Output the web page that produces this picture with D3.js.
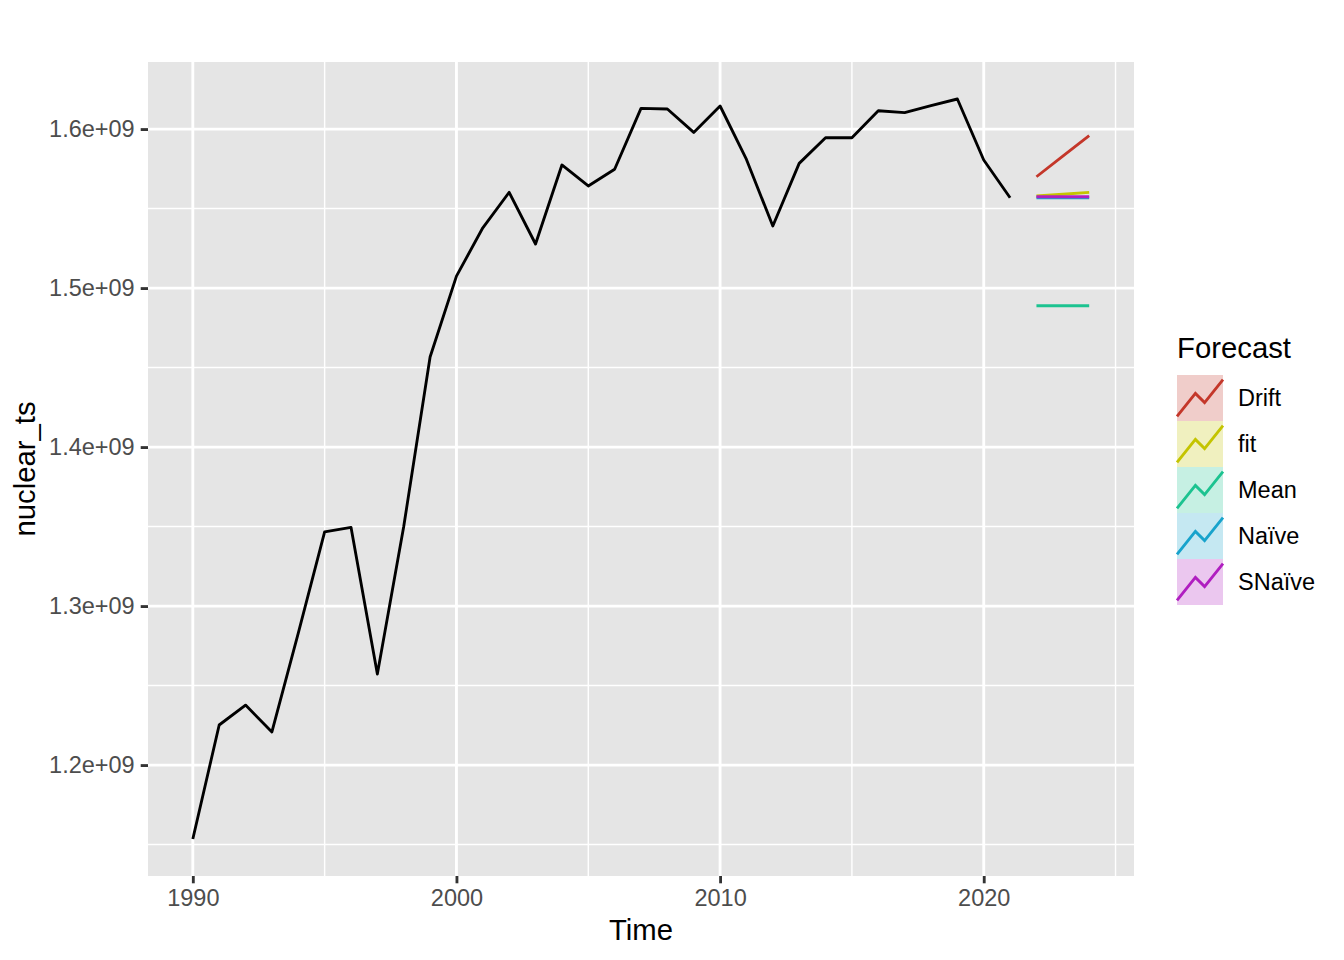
<!DOCTYPE html>
<html>
  <head>
    <meta charset="utf-8">
    <script src="https://d3js.org/d3.v7.min.js"></script>
    <style>
      body { margin: 0; background: white; }
      text { font-family: "Liberation Sans", Arial, sans-serif; }
    </style>
  </head>
  <body>
    <div id="chart"></div>
    <script>
      // observed series (annual)
      const years = [1990, 1991, 1992, 1993, 1994, 1995, 1996, 1997, 1998, 1999,
                     2000, 2001, 2002, 2003, 2004, 2005, 2006, 2007, 2008, 2009,
                     2010, 2011, 2012, 2013, 2014, 2015, 2016, 2017, 2018, 2019,
                     2020, 2021]
      const nuclear = [1.1535e9, 1.2252e9, 1.2377e9, 1.2208e9, 1.283e9, 1.3467e9, 1.3495e9, 1.2572e9, 1.350e9, 1.4566e9,
                       1.5075e9, 1.5379e9, 1.5602e9, 1.5277e9, 1.5774e9, 1.5642e9, 1.5747e9, 1.6130e9, 1.6126e9, 1.5979e9,
                       1.6145e9, 1.5809e9, 1.5390e9, 1.5784e9, 1.5945e9, 1.5945e9, 1.6115e9, 1.6103e9, 1.6147e9, 1.6189e9,
                       1.5805e9, 1.5568e9]

      // forecasts
      const fcYears = [2022, 2023, 2024]
      const fcNames = ['Drift', 'fit', 'Mean', 'Naïve', 'SNaïve']
      const drift  = [1.5700e9, 1.5830e9, 1.5958e9]
      const fit    = [1.5579e9, 1.5590e9, 1.5602e9]
      const mean   = [1.4889e9, 1.4889e9, 1.4889e9]
      const naive  = [1.5568e9, 1.5568e9, 1.5568e9]
      const snaive = [1.5574e9, 1.5574e9, 1.5574e9]
      const fcValues = [drift, fit, mean, naive, snaive]

      // ticks
      const xMajor = [1990, 2000, 2010, 2020]
      const xMinor = [1995, 2005, 2015, 2025]
      const yMajor = [1.2e9, 1.3e9, 1.4e9, 1.5e9, 1.6e9]
      const yMinor = [1.15e9, 1.25e9, 1.35e9, 1.45e9, 1.55e9]

      const W = 1344, H = 960
      const panel = {left: 148, right: 1134, top: 62, bottom: 876}
      const lw = 2.85

      const svg = d3.select('#chart').append('svg')
        .attr('width', W).attr('height', H)

      const allX = years.concat(fcYears)
      const allY = nuclear.concat(...fcValues)
      const xExt = d3.extent(allX), yExt = d3.extent(allY)
      const xPad = (xExt[1] - xExt[0]) * 0.05, yPad = (yExt[1] - yExt[0]) * 0.05

      const x = d3.scaleLinear().domain([xExt[0] - xPad, xExt[1] + xPad]).range([panel.left, panel.right])
      const y = d3.scaleLinear().domain([yExt[0] - yPad, yExt[1] + yPad]).range([panel.bottom, panel.top])

      const color = d3.scaleOrdinal().domain(fcNames)
        .range(['#c4372a', '#c4c400', '#1cc390', '#18a3cc', '#b01ec0'])

      // panel background + grid
      svg.append('rect')
        .attr('x', panel.left).attr('y', panel.top)
        .attr('width', panel.right - panel.left).attr('height', panel.bottom - panel.top)
        .attr('fill', '#e5e5e5')

      const grid = svg.append('g').attr('stroke', 'white')
      grid.selectAll('.ymin').data(yMinor).join('line')
        .attr('x1', panel.left).attr('x2', panel.right)
        .attr('y1', d => y(d)).attr('y2', d => y(d)).attr('stroke-width', lw / 2)
      grid.selectAll('.xmin').data(xMinor).join('line')
        .attr('y1', panel.top).attr('y2', panel.bottom)
        .attr('x1', d => x(d)).attr('x2', d => x(d)).attr('stroke-width', lw / 2)
      grid.selectAll('.ymaj').data(yMajor).join('line')
        .attr('x1', panel.left).attr('x2', panel.right)
        .attr('y1', d => y(d)).attr('y2', d => y(d)).attr('stroke-width', lw)
      grid.selectAll('.xmaj').data(xMajor).join('line')
        .attr('y1', panel.top).attr('y2', panel.bottom)
        .attr('x1', d => x(d)).attr('x2', d => x(d)).attr('stroke-width', lw)

      // axes
      const fmt = v => (v / 1e9).toFixed(1) + 'e+09'
      const yAxis = svg.append('g')
        .attr('transform', `translate(${panel.left},0)`)
        .call(d3.axisLeft(y).tickValues(yMajor).tickFormat(fmt).tickSize(7.3).tickPadding(6))
      const xAxis = svg.append('g')
        .attr('transform', `translate(0,${panel.bottom})`)
        .call(d3.axisBottom(x).tickValues(xMajor).tickFormat(d3.format('d')).tickSize(7.3).tickPadding(6))
      for (const ax of [xAxis, yAxis]) {
        ax.select('.domain').remove()
        ax.selectAll('.tick line').attr('stroke', '#333333').attr('stroke-width', lw)
        ax.selectAll('.tick text')
          .attr('fill', '#4d4d4d')
          .style('font-size', '23.5px')
          .style('font-family', '"Liberation Sans", Arial, sans-serif')
      }

      // observed series
      const line = d3.line().x(d => x(d[0])).y(d => y(d[1]))
      svg.append('path')
        .datum(years.map((yr, i) => [yr, nuclear[i]]))
        .attr('d', line)
        .attr('fill', 'none').attr('stroke', 'black').attr('stroke-width', lw)
        .attr('stroke-linejoin', 'round')

      // forecast lines
      svg.append('g').selectAll('path')
        .data(fcNames.map((n, k) => ({name: n, pts: fcYears.map((yr, i) => [yr, fcValues[k][i]])})))
        .join('path')
        .attr('d', d => line(d.pts))
        .attr('fill', 'none')
        .attr('stroke', d => color(d.name))
        .attr('stroke-width', lw)

      // axis titles
      svg.append('text')
        .attr('x', (panel.left + panel.right) / 2).attr('y', 940)
        .attr('text-anchor', 'middle').attr('font-size', 29.3).attr('fill', 'black')
        .text('Time')
      svg.append('text')
        .attr('transform', `translate(35,${(panel.top + panel.bottom) / 2}) rotate(-90)`)
        .attr('text-anchor', 'middle').attr('font-size', 29.3).attr('fill', 'black')
        .text('nuclear_ts')

      // legend
      const key = 46
      const leg = svg.append('g').attr('transform', 'translate(1177,375)')
      leg.append('text')
        .attr('x', 0).attr('y', -17)
        .attr('font-size', 29.3).attr('fill', 'black')
        .text('Forecast')
      const items = leg.selectAll('.item').data(fcNames).join('g')
        .attr('transform', (d, i) => `translate(0,${i * key})`)
      items.append('rect')
        .attr('width', key).attr('height', key)
        .attr('fill', d => color(d)).attr('fill-opacity', 0.25)
      const kx = d3.scaleLinear().range([0, key]), ky = d3.scaleLinear().range([key, 0])
      items.append('path')
        .attr('d', d3.line().x(d => kx(d[0])).y(d => ky(d[1]))([[0, 0.1], [0.4, 0.6], [0.6, 0.4], [1, 0.9]]))
        .attr('fill', 'none')
        .attr('stroke', d => color(d)).attr('stroke-width', lw)
      items.append('text')
        .attr('x', key + 15).attr('y', key / 2)
        .attr('dy', '0.35em')
        .attr('font-size', 23.5).attr('fill', 'black')
        .text(d => d)
    </script>
  </body>
</html>
